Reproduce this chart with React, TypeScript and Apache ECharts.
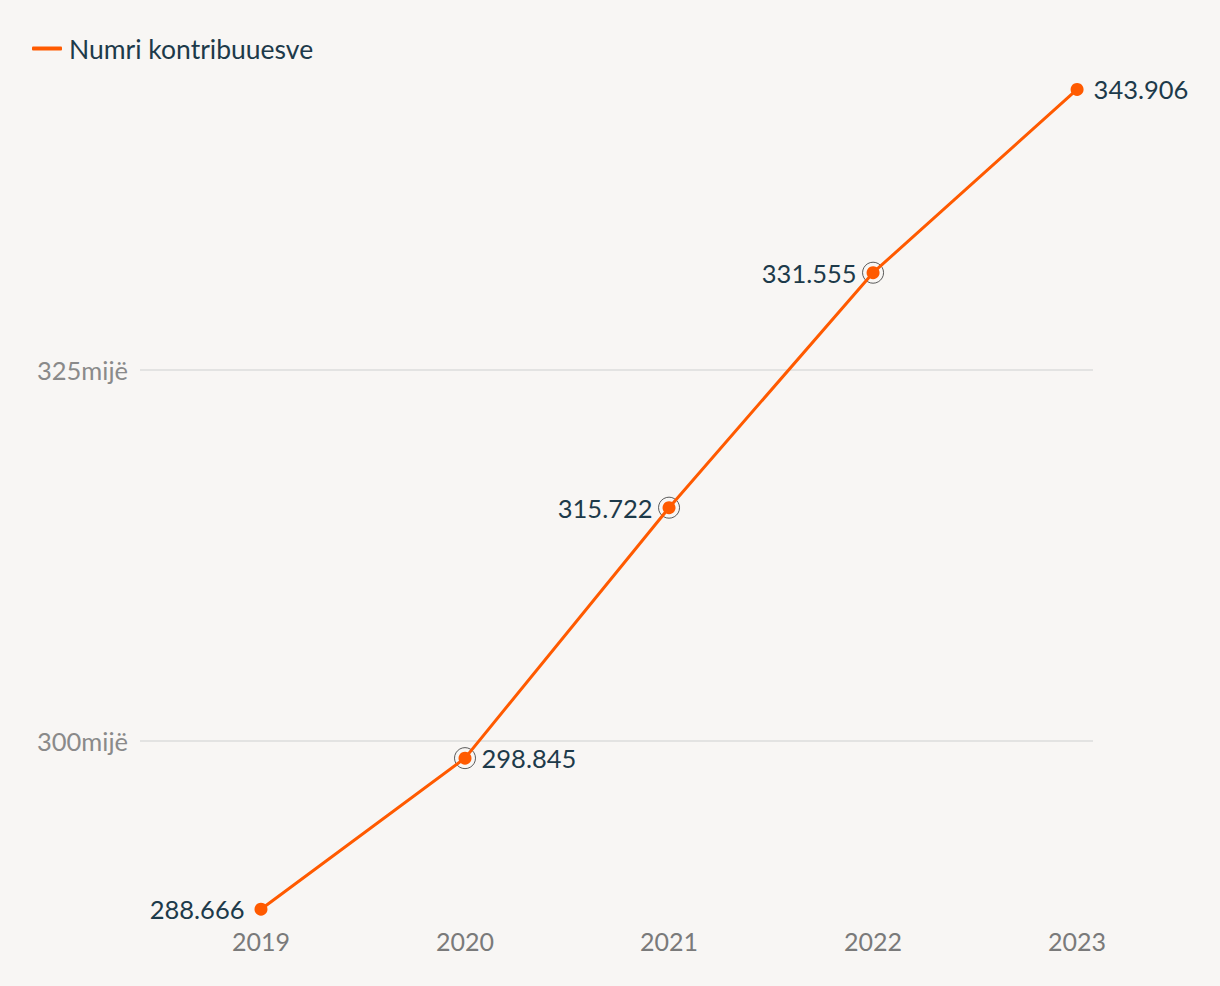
import React, { useEffect, useRef } from "react";
import * as echarts from "echarts";

const years = [2019, 2020, 2021, 2022, 2023];
const contributors = [288666, 298845, 315722, 331555, 343906];
const ringedYears = [2020, 2021, 2022];
const yTicks = [300000, 325000];
const seriesName = "Numri kontribuuesve";
const labelSides = ["left", "right", "left", "left", "right"];

const fmt = (v: number) => String(v).replace(/\B(?=(\d{3})+(?!\d))/g, ".");

export default function App() {
  const ref = useRef<HTMLDivElement>(null);
  useEffect(() => {
    document.body.style.margin = "0";
    const chart = echarts.init(ref.current!, null, { renderer: "svg" });
    const font = "Lato, 'Noto Sans', sans-serif";
    const lineData = years.map((y, i) => ({
      value: [y, contributors[i]],
      label: { position: labelSides[i] },
    }));
    const ringData = years
      .map((y, i) => [y, contributors[i]])
      .filter((d) => ringedYears.includes(d[0]));
    chart.setOption({
      animation: false,
      backgroundColor: "#f8f6f4",
      textStyle: { fontFamily: font },
      legend: {
        left: 27,
        top: 30,
        icon: "roundRect",
        itemWidth: 30,
        itemHeight: 4,
        itemGap: 8,
        textStyle: { color: "#1d3a4a", fontSize: 26.5, fontFamily: font, padding: [0, 0, 0, 2] },
        data: [{ name: seriesName, icon: "roundRect" }],
      },
      grid: { left: 140, right: 127, top: 60, bottom: 66 },
      xAxis: {
        type: "value",
        min: 2018.407,
        max: 2023.078,
        splitLine: { show: false },
        axisLine: { show: false },
        axisTick: { show: false },
        axisLabel: {
          customValues: years,
          formatter: (v: number) => String(v),
          color: "#7a7a7a",
          fontSize: 25,
          margin: 8,
          fontFamily: font,
        },
      },
      yAxis: {
        type: "value",
        min: 287938,
        max: 345889,
        splitLine: { show: false },
        axisLine: { show: false },
        axisTick: { show: false },
        axisLabel: {
          customValues: yTicks,
          formatter: (v: number) => v / 1000 + "mijë",
          color: "#8a8a8a",
          fontSize: 25.5,
          margin: 12,
          fontFamily: font,
        },
      },
      series: [
        {
          name: seriesName,
          type: "line",
          data: lineData,
          color: "#ff5a00",
          lineStyle: { width: 3, color: "#ff5a00" },
          symbol: "circle",
          symbolSize: 13,
          itemStyle: { color: "#ff5a00" },
          z: 3,
          label: {
            show: true,
            distance: 10,
            color: "#1d3a4a",
            fontSize: 25.5,
            fontFamily: font,
            formatter: (p: any) => fmt(p.value[1]),
          },
          markLine: {
            silent: true,
            symbol: "none",
            label: { show: false },
            lineStyle: { color: "#dcdcdc", width: 1.5, type: "solid" },
            data: yTicks.map((t) => ({ yAxis: t })),
            z: 1,
          },
        },
        {
          name: "ring",
          type: "scatter",
          data: ringData,
          symbol: "circle",
          symbolSize: 21,
          itemStyle: { color: "rgba(0,0,0,0)", borderColor: "#333", borderWidth: 1 },
          z: 2,
          silent: true,
        },
      ],
    });
    return () => chart.dispose();
  }, []);
  return <div ref={ref} style={{ width: 1220, height: 986 }} />;
}
